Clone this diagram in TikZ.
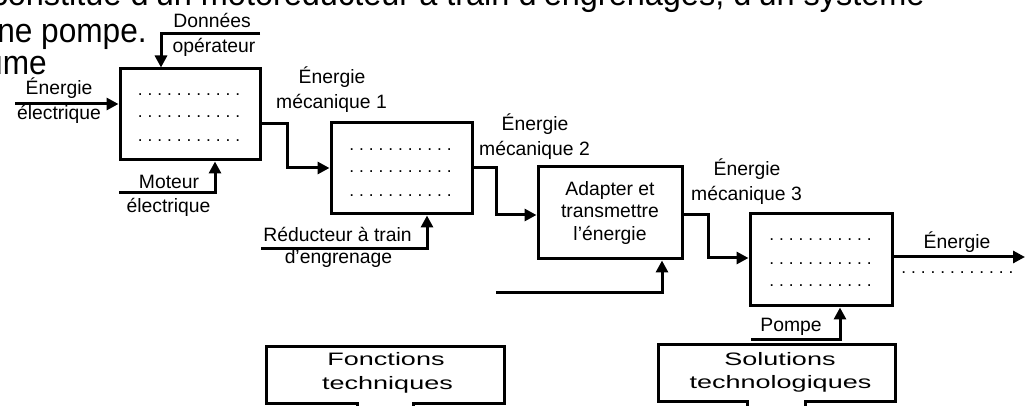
\documentclass[tikz,border=0pt]{standalone}
\usepackage{fontspec}
\setmainfont{Liberation Sans}
\usetikzlibrary{arrows.meta}
\newcount\dotcnt
\newcommand\rowdots[1]{\dotcnt=0 \loop.\advance\dotcnt by 1 \ifnum\dotcnt<#1\hspace{3.7pt}\repeat}
\tikzset{
  lw/.style={line width=2.25pt},
  box/.style={draw, lw, inner sep=0pt},
  arr/.style={lw, line join=miter, -{Triangle[length=9pt,width=9pt]}},
  plain/.style={lw, line join=miter},
  lbl/.style={inner sep=0pt, anchor=base, font=\fontsize{14.5pt}{17pt}\selectfont},
  dotsrow/.style={inner sep=0pt, anchor=base, font=\fontsize{13pt}{15pt}\selectfont},
  bigtxt/.style={inner sep=0pt, anchor=base east, font=\fontsize{25.5pt}{30pt}\selectfont},
  wide/.style={inner sep=0pt, anchor=base, font=\fontsize{13.5pt}{16pt}\selectfont},
}
\begin{document}
\begin{tikzpicture}[x=0.75pt, y=-0.75pt]
\useasboundingbox (0,0) rectangle (1026,406);
\clip (0,0) rectangle (1026,406);
\fill[white] (0,0) rectangle (1026,406);

% cut-off text at the top
\node[bigtxt] (t1) at (925,6) {\scalebox{0.955}[1]{constitué d’un motoréducteur à train d’engrenages, d’un système}};
\node[bigtxt] (t2) at (147,43) {\scalebox{0.93}[1]{une pompe.}};
\node[bigtxt] (t3) at (47,75) {\scalebox{0.93}[1]{ume}};

% boxes
\node[box, minimum width=105pt, minimum height=68.25pt] (b1) at (190,114.5) {};
\node[box, minimum width=105.75pt, minimum height=68.25pt] (b2) at (401.5,168.5) {};
\node[box, minimum width=108pt, minimum height=69pt, align=center,
      font=\fontsize{14.5pt}{16.9pt}\selectfont] (b3) at (610,213) {Adapter et\\transmettre\\l’énergie};
\node[box, minimum width=106.5pt, minimum height=69pt] (b4) at (821,260) {};

% dotted rows
\node[dotsrow] (d11) at (189,96) {\rowdots{11}};
\node[dotsrow] (d12) at (189,118) {\rowdots{11}};
\node[dotsrow] (d13) at (189,142) {\rowdots{11}};
\node[dotsrow] (d21) at (400.5,151) {\rowdots{11}};
\node[dotsrow] (d22) at (400.5,173) {\rowdots{11}};
\node[dotsrow] (d23) at (400.5,197) {\rowdots{11}};
\node[dotsrow] (d41) at (820.5,241) {\rowdots{11}};
\node[dotsrow] (d42) at (820.5,265) {\rowdots{11}};
\node[dotsrow] (d43) at (820.5,287) {\rowdots{11}};
\node[dotsrow] (d5) at (957.5,274) {\rowdots{12}};

% coordinates for connectors
\coordinate (e1) at (15,104);
\coordinate (do) at (260,34);
\coordinate (dob) at (161,34);
\coordinate (mo) at (119,193);
\coordinate (mob) at (215,193);
\coordinate (m1) at (287,124);
\coordinate (m1b) at (287,168);
\coordinate (re) at (261,249);
\coordinate (reb) at (427,249);
\coordinate (m2) at (496,168);
\coordinate (m2b) at (496,215);
\coordinate (bo) at (496,293);
\coordinate (bob) at (662,293);
\coordinate (m3) at (708,215);
\coordinate (m3b) at (708,258);
\coordinate (po) at (751,340);
\coordinate (pob) at (840,340);
\coordinate (out) at (1025,257);

% connectors
\draw[arr] (e1) -- (e1 -| b1.west);
\draw[arr] (do) -- (dob) -- (dob |- b1.north);
\draw[arr] (mo) -- (mob) -- (mob |- b1.south);
\draw[arr] (m1 -| b1.east) -- (m1) -- (m1b) -- (m1b -| b2.west);
\draw[arr] (re) -- (reb) -- (reb |- b2.south);
\draw[arr] (m2 -| b2.east) -- (m2) -- (m2b) -- (m2b -| b3.west);
\draw[arr] (bo) -- (bob) -- (bob |- b3.south);
\draw[arr] (m3 -| b3.east) -- (m3) -- (m3b) -- (m3b -| b4.west);
\draw[arr] (po) -- (pob) -- (pob |- b4.south);
\draw[arr] (out -| b4.east) -- (out);

% labels
\node[lbl] (l1) at (212,28) {Données};
\node[lbl] (l2) at (214,53) {opérateur};
\node[lbl] (l3) at (59,95) {Énergie};
\node[lbl] (l4) at (59,120) {électrique};
\node[lbl] (l5) at (169,189) {Moteur};
\node[lbl] (l6) at (168.5,213) {électrique};
\node[lbl] (l7) at (332,84) {Énergie};
\node[lbl] (l8) at (331.5,109) {mécanique 1};
\node[lbl] (l9) at (535,131) {Énergie};
\node[lbl] (l10) at (534.5,156) {mécanique 2};
\node[lbl] (l11) at (337.5,242) {Réducteur à train};
\node[lbl] (l12) at (338.5,264) {d’engrenage};
\node[lbl] (l13) at (747,176) {Énergie};
\node[lbl] (l14) at (746.5,201) {mécanique 3};
\node[lbl] (l15) at (957,249) {Énergie};
\node[lbl] (l16) at (791,332) {Pompe};

% callout frames
\draw[plain] (357,412) -- (357,404) -- (266,404) -- (266,347) -- (504,347) -- (504,404) -- (413,404) -- (413,412);
\draw[plain] (747,410) -- (747,402) -- (658,402) -- (658,345) -- (895,345) -- (895,402) -- (805,402) -- (805,410);
\node[wide] (f1) at (386,365) {\scalebox{1.5}[1]{Fonctions}};
\node[wide] (f2) at (387.5,389) {\scalebox{1.5}[1]{techniques}};
\node[wide] (s1) at (780,366) {\scalebox{1.5}[1]{Solutions}};
\node[wide] (s2) at (780.5,388) {\scalebox{1.5}[1]{technologiques}};
\end{tikzpicture}
\end{document}
